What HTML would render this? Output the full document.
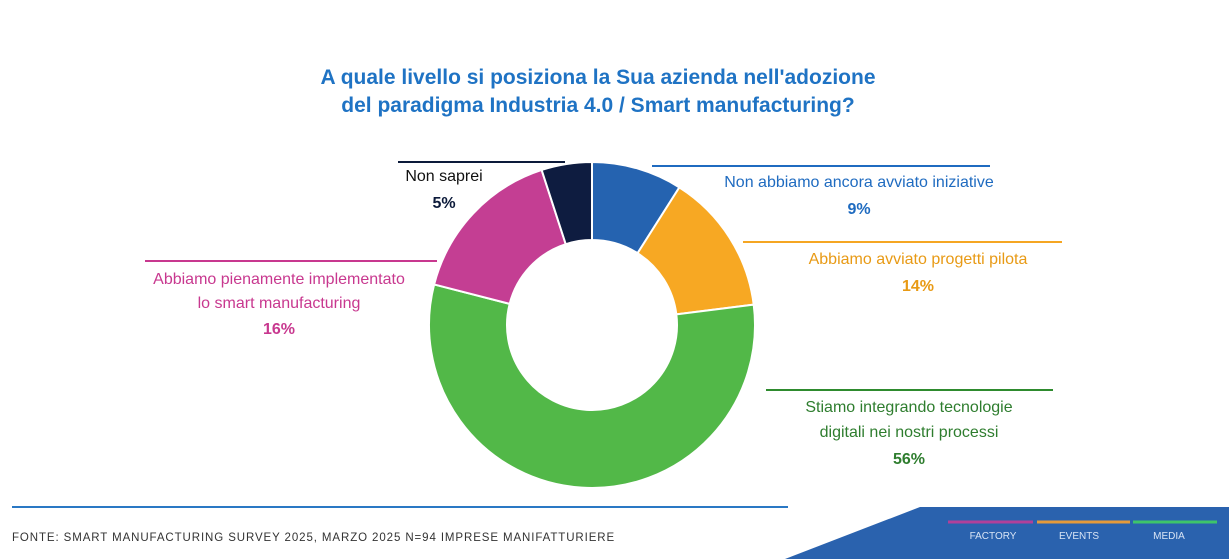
<!DOCTYPE html>
<html><head><meta charset="utf-8"><style>
body{margin:0;width:1229px;height:559px;background:#fff;overflow:hidden;font-family:"Liberation Sans",sans-serif;position:relative}
.t{position:absolute;white-space:nowrap}
</style></head><body>
<svg id="c" width="1229" height="559" style="position:absolute;left:0;top:0">
<text x="598" y="84" text-anchor="middle" font-size="21" font-weight="bold" fill="#1f73c4" font-family="Liberation Sans">A quale livello si posiziona la Sua azienda nell'adozione</text>
<text x="598" y="112" text-anchor="middle" font-size="21" font-weight="bold" fill="#1f73c4" font-family="Liberation Sans">del paradigma Industria 4.0 / Smart manufacturing?</text>
<g id="slices"></g>
<line x1="398" y1="162" x2="565" y2="162" stroke="#0c1a3a" stroke-width="2"/>
<line x1="652" y1="166" x2="990" y2="166" stroke="#1f6bc0" stroke-width="2"/>
<line x1="743" y1="242" x2="1062" y2="242" stroke="#f5a623" stroke-width="2"/>
<line x1="766" y1="390" x2="1053" y2="390" stroke="#2e8b2e" stroke-width="2"/>
<line x1="145" y1="261" x2="437" y2="261" stroke="#c8388f" stroke-width="2"/>
<g font-family="Liberation Sans" font-size="16">
<text x="444" y="181" text-anchor="middle" fill="#111">Non saprei</text>
<text x="444" y="208" text-anchor="middle" font-weight="bold" fill="#0c1a3a">5%</text>
<text x="859" y="187" text-anchor="middle" fill="#1f6bc0">Non abbiamo ancora avviato iniziative</text>
<text x="859" y="214" text-anchor="middle" font-weight="bold" fill="#1f6bc0">9%</text>
<text x="918" y="264" text-anchor="middle" fill="#e89a15">Abbiamo avviato progetti pilota</text>
<text x="918" y="291" text-anchor="middle" font-weight="bold" fill="#e89a15">14%</text>
<text x="909" y="412" text-anchor="middle" fill="#2e7d2e">Stiamo integrando tecnologie</text>
<text x="909" y="437" text-anchor="middle" fill="#2e7d2e">digitali nei nostri processi</text>
<text x="909" y="464" text-anchor="middle" font-weight="bold" fill="#2e7d2e">56%</text>
<text x="279" y="284" text-anchor="middle" fill="#c8388f">Abbiamo pienamente implementato</text>
<text x="279" y="308" text-anchor="middle" fill="#c8388f">lo smart manufacturing</text>
<text x="279" y="334" text-anchor="middle" font-weight="bold" fill="#c8388f">16%</text>
</g>
<line x1="12" y1="507" x2="788" y2="507" stroke="#2a78c4" stroke-width="2"/>
<text x="12" y="541" font-size="11.5" fill="#333" letter-spacing="0.9" font-family="Liberation Sans">FONTE: SMART MANUFACTURING SURVEY 2025, MARZO 2025  N=94 IMPRESE MANIFATTURIERE</text>
<polygon points="920,507 1229,507 1229,559 785,559" fill="#2a62ae"/>
<line x1="948" y1="522" x2="1033" y2="522" stroke="#b0409a" stroke-width="3"/>
<line x1="1037" y1="522" x2="1130" y2="522" stroke="#e49a3a" stroke-width="3"/>
<line x1="1133" y1="522" x2="1217" y2="522" stroke="#3ec46a" stroke-width="3"/>
<g font-size="10" fill="#d8e4f5" font-family="Liberation Sans" text-anchor="middle">
<text x="993" y="539">FACTORY</text>
<text x="1079" y="539">EVENTS</text>
<text x="1169" y="539">MEDIA</text>
</g>
</svg>
<script>
const categories=["Non abbiamo ancora avviato iniziative","Abbiamo avviato progetti pilota","Stiamo integrando tecnologie digitali","Abbiamo pienamente implementato","Non saprei"];
const values=[9,14,56,16,5];
const colors=["#2563b0","#f7a823","#52b848","#c43e93","#0e1c40"];
const cx=592,cy=325,R=163,r=85;
const g=document.getElementById('slices');
const total=values.reduce((a,b)=>a+b,0);
let acc=0;
function pt(a,rad){return [cx+rad*Math.sin(a),cy-rad*Math.cos(a)];}
values.forEach((v,i)=>{
 const a0=acc/total*2*Math.PI; acc+=v; const a1=acc/total*2*Math.PI;
 const lg=(a1-a0)>Math.PI?1:0;
 const p0=pt(a0,R),p1=pt(a1,R),q1=pt(a1,r),q0=pt(a0,r);
 const p=document.createElementNS('http://www.w3.org/2000/svg','path');
 p.setAttribute('d',`M${p0}A${R},${R} 0 ${lg} 1 ${p1}L${q1}A${r},${r} 0 ${lg} 0 ${q0}Z`);
 p.setAttribute('fill',colors[i]);p.setAttribute('stroke','#fff');p.setAttribute('stroke-width','2');
 
 
 g.appendChild(p);
});
</script>
</body></html>
